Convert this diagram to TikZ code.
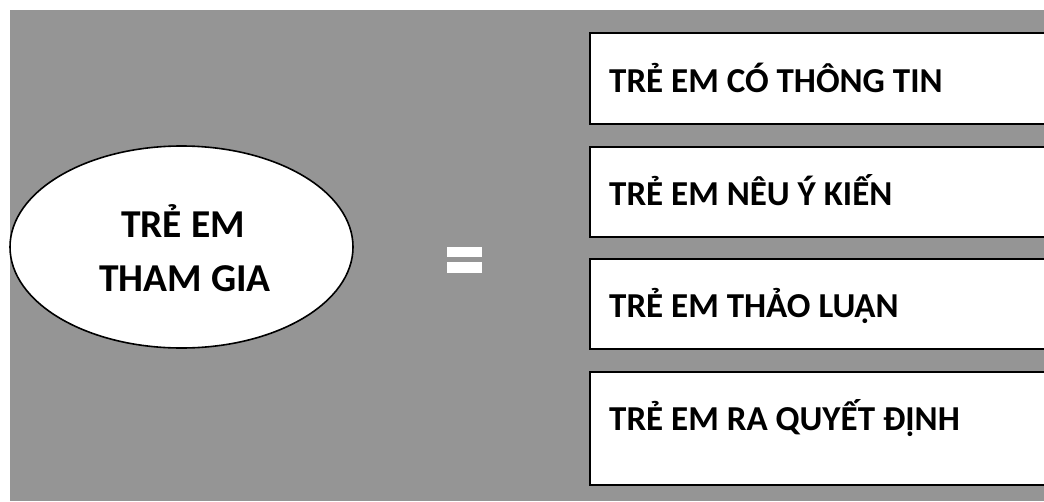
\documentclass[tikz,border=0pt]{standalone}
\usepackage{fontspec}
\setmainfont{Carlito}
\usetikzlibrary{shapes.geometric}
\definecolor{bggray}{HTML}{959595}
\tikzset{
  x=1pt,y=1pt,
  itembox/.style={draw=black, line width=1.8pt, fill=white, rectangle, anchor=north west, minimum width=480pt, inner sep=0pt},
  itemtext/.style={anchor=base west, inner sep=0pt, font=\fontsize{35}{42}\selectfont\bfseries},
  bigoval/.style={ellipse, draw=black, line width=1.6pt, fill=white, minimum width=343pt, minimum height=202pt, inner sep=0pt},
  ovaltext/.style={anchor=base, inner sep=0pt, font=\fontsize{39.5}{46}\selectfont\bfseries},
  eqbar/.style={fill=white, draw=none}
}
\begin{document}
\begin{tikzpicture}
\useasboundingbox (0,0) rectangle (1044,-501);
\clip (0,0) rectangle (1044,-501);
\fill[bggray] (10,-10) rectangle (1044,-501);
% oval
\node[bigoval] (oval) at (181.5,-247) {};
\node[ovaltext] (ovalA) at (183,-237) {TRẺ EM};
\node[ovaltext] (ovalB) at (185,-291) {THAM GIA};
% equals sign
\fill[eqbar] (447,-247) rectangle (482,-257);
\fill[eqbar] (447,-262) rectangle (482,-273);
% boxes
\node[itembox, minimum height=91pt] (b1) at (589,-32) {};
\node[itembox, minimum height=90pt] (b2) at (589,-146) {};
\node[itembox, minimum height=90pt] (b3) at (589,-258) {};
\node[itembox, minimum height=113pt] (b4) at (589,-371) {};
\node[itemtext] (t1) at (609,-92) {TRẺ EM CÓ THÔNG TIN};
\node[itemtext] (t2) at (609,-205) {TRẺ EM NÊU Ý KIẾN};
\node[itemtext] (t3) at (609,-317) {TRẺ EM THẢO LUẬN};
\node[itemtext] (t4) at (609,-430) {TRẺ EM RA QUYẾT ĐỊNH};
\end{tikzpicture}
\end{document}
